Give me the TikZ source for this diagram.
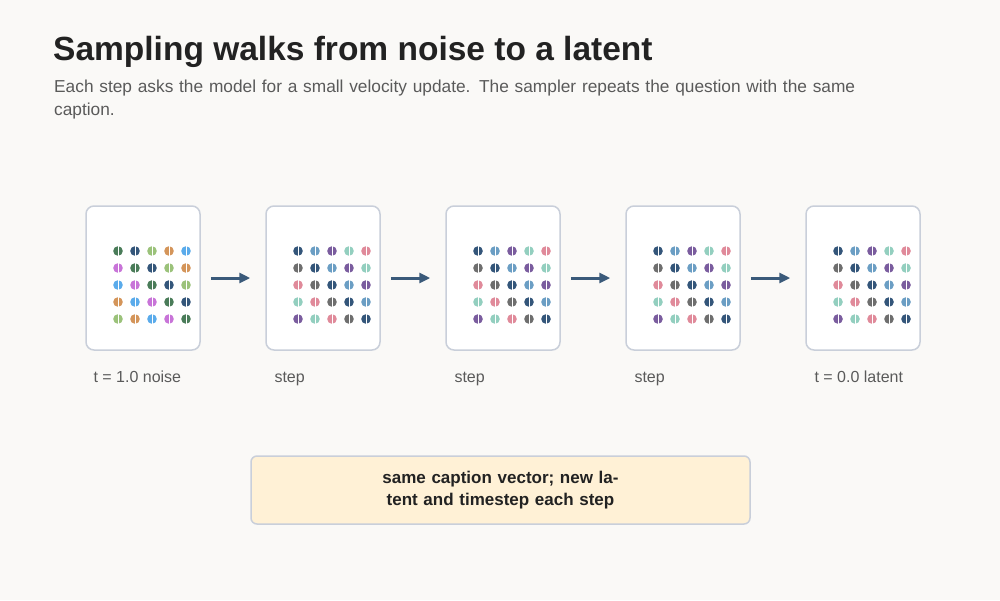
\documentclass[tikz,border=0pt]{standalone}
\usepackage{fontspec}
\setmainfont{Liberation Sans}
\usetikzlibrary{arrows.meta}
\definecolor{bg}{HTML}{FAF9F7}
\definecolor{frame}{HTML}{C9CFDA}
\definecolor{ink}{HTML}{222222}
\definecolor{sub}{HTML}{5A5A5A}
\definecolor{arr}{HTML}{3A5A7A}
\definecolor{notefill}{HTML}{FFF1D6}
% noise palette
\definecolor{nA}{HTML}{4A7C59}\definecolor{nB}{HTML}{34567A}\definecolor{nC}{HTML}{9BC27A}
\definecolor{nD}{HTML}{D4955A}\definecolor{nE}{HTML}{5AABEB}\definecolor{nF}{HTML}{C874D8}
% latent palette
\definecolor{lA}{HTML}{34567A}\definecolor{lB}{HTML}{6B9EC4}\definecolor{lC}{HTML}{7A5C9E}
\definecolor{lD}{HTML}{93CFBF}\definecolor{lE}{HTML}{E08A9A}\definecolor{lF}{HTML}{6E6E6E}
\tikzset{
  card/.style={draw=frame, line width=1.5pt, fill=white, rounded corners=8pt,
    minimum width=114pt, minimum height=144pt, inner sep=0pt},
  caption/.style={anchor=west, text=sub, font=\fontsize{16}{19}\selectfont, text depth=3pt, text height=11pt},
  flow/.style={draw=arr, line width=3pt, -{Triangle[length=11pt,width=10pt]}}
}
\begin{document}
\begin{tikzpicture}[x=1pt,y=-1pt]
    \fill[bg] (0,0) rectangle (1000,600);
    \useasboundingbox (0,0) rectangle (1000,600);

    % Titel
    \node[anchor=west, text=ink, font=\bfseries\fontsize{33.5}{40}\selectfont, inner sep=0pt] (title) at (53,52) {Sampling walks from noise to a latent};
    \node[anchor=north west, text=sub, text width=830pt, font=\fontsize{17.3}{23}\selectfont, inner sep=0pt] (lead) at (54,80)
      {Each step asks the model for a small velocity update. The sampler repeats the question with the same caption.};

    % Karten
    \foreach \i/\x/\pal in {0/143/n,1/323/l,2/503/l,3/683/l,4/863/l}{
      \node[card] (c\i) at (\x,278) {};
      \foreach \r in {0,...,4}{
        \foreach \c in {0,...,4}{
          \pgfmathtruncatemacro{\k}{mod(\c-\r+6,6)}
          \pgfmathsetmacro{\nm}{{"A","B","C","D","E","F"}[\k]}
          \fill[\pal\nm] (\x-25+17*\c,251+17*\r) circle (4.8pt);
          \draw[white, line width=1pt] (\x-25+17*\c,246+17*\r) -- (\x-25+17*\c,256+17*\r);
        }
      }
    }

    % Pfeile
    \foreach \a/\b in {0/1,1/2,2/3,3/4}{
      \draw[flow] ([xshift=10pt]c\a.east) -- ([xshift=-15pt]c\b.west);
    }

    % Beschriftungen
    \node[caption] (l0) at (90,378) {t = 1.0 noise};
    \node[caption] (l1) at (271,378) {step};
    \node[caption] (l2) at (451,378) {step};
    \node[caption] (l3) at (631,378) {step};
    \node[caption] (l4) at (811,378) {t = 0.0 latent};

    % Hinweis
    \node[draw=frame, line width=1.5pt, fill=notefill, rounded corners=6pt, minimum width=499pt,
      minimum height=68pt, text width=445pt, align=center, text=ink,
      font=\bfseries\fontsize{17}{22}\selectfont] (note) at (500.5,490)
      {same caption vector; new latent and timestep each step};
\end{tikzpicture}
\end{document}
